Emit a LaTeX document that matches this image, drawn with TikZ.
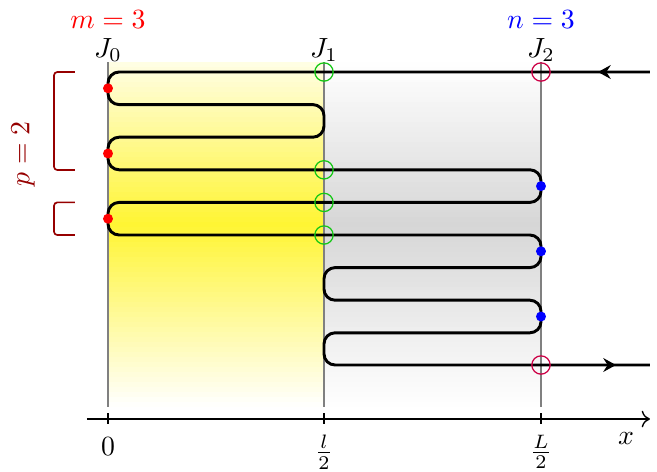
\documentclass[tikz,border=0pt]{standalone}
\usetikzlibrary{arrows.meta}
\definecolor{crim}{RGB}{205,0,70}
\definecolor{grn}{RGB}{20,200,20}
\definecolor{brk}{RGB}{150,0,0}
\tikzset{
  wire/.style={line width=1.05pt, rounded corners=4pt},
  jline/.style={gray, line width=0.5pt},
  gring/.style={circle, draw=grn, line width=0.45pt, minimum size=6.6pt, inner sep=0pt},
  cring/.style={circle, draw=crim, line width=0.45pt, minimum size=6.6pt, inner sep=0pt},
  rdot/.style={circle, fill=red, minimum size=3.6pt, inner sep=0pt},
  bdot/.style={circle, fill=blue, minimum size=3.6pt, inner sep=0pt},
  brack/.style={brk, line width=0.6pt, rounded corners=1.2pt},
  flow/.style={line width=1.05pt, -{Stealth[length=4.6pt,width=5pt,inset=1.6pt]}},
}
\begin{document}
\begin{tikzpicture}[x=0.36pt, y=-0.36pt]
\useasboundingbox (0,0) rectangle (657,471);
% shaded regions (manual vertical gradient)
\foreach \i in {0,...,68}{
  \pgfmathsetmacro\ya{62+5*\i}
  \pgfmathsetmacro\yb{min(407,\ya+5.8)}
  \pgfmathsetmacro\ym{\ya+2.5}
  \pgfmathsetmacro\py{\ym<225 ? 10+(\ym-62)/163*70 : (407-\ym)/182*80}
  \pgfmathsetmacro\pg{\ym<225 ? (\ym-62)/163*16 : (407-\ym)/182*16}
  \fill[yellow!\py!white] (108,\ya) rectangle (324,\yb);
  \fill[black!\pg!white] (324,\ya) rectangle (541,\yb);
}
% junction lines
\draw[jline] (108,62) -- (108,407);
\draw[jline] (324,62) -- (324,407);
\draw[jline] (541,62) -- (541,407);
% wire
\coordinate (in) at (650,72);
\coordinate (out) at (650,365);
\draw[wire] (in) -- (108,72) -- (108,104.6) -- (324,104.6) -- (324,137.2) -- (108,137.2) -- (108,169.8)
  -- (541,169.8) -- (541,202.4) -- (108,202.4) -- (108,235) -- (541,235) -- (541,267.6)
  -- (324,267.6) -- (324,300.2) -- (541,300.2) -- (541,332.8) -- (324,332.8) -- (324,365) -- (out);
% arrows
\coordinate (ain) at (598,72);
\coordinate (aout) at (616,365);
\draw[flow] (in) -- (ain);
\draw[flow] (541,365) -- (aout);
% markers
\node[gring] (g1) at (324,72) {};
\node[gring] (g2) at (324,169.8) {};
\node[gring] (g3) at (324,202.4) {};
\node[gring] (g4) at (324,235) {};
\node[cring] (c1) at (541,72) {};
\node[cring] (c2) at (541,365) {};
\node[rdot] (r1) at (108,88.3) {};
\node[rdot] (r2) at (108,153.5) {};
\node[rdot] (r3) at (108,218.7) {};
\node[bdot] (b1) at (541,186.1) {};
\node[bdot] (b2) at (541,251.3) {};
\node[bdot] (b3) at (541,316.5) {};
% axis
\coordinate (ax0) at (87,419);
\coordinate (ax1) at (650,419);
\draw[line width=0.5pt, -{To[length=3pt,width=6pt]}] (ax0) -- (ax1);
\foreach \xx in {108,324,541} \draw[line width=0.5pt] (\xx,413) -- (\xx,424);
\node (t0) at (108,447) {$0$};
\node (t1) at (324,452) {$\frac{l}{2}$};
\node (t2) at (541,452) {$\frac{L}{2}$};
\node (xl) at (626,439) {$x$};
% labels
\node (J0) at (108,50) {$J_0$};
\node (J1) at (324,50) {$J_1$};
\node (J2) at (541,50) {$J_2$};
\node[red] (m) at (108,20) {$m=3$};
\node[blue] (n) at (541,20) {$n=3$};
% brackets
\draw[brack] (75,72) -- (54,72) -- (54,170) -- (75,170);
\draw[brack] (75,202.4) -- (54,202.4) -- (54,235) -- (75,235);
\node[brk, rotate=90] (p) at (23,154) {$p=2$};
\end{tikzpicture}
\end{document}
